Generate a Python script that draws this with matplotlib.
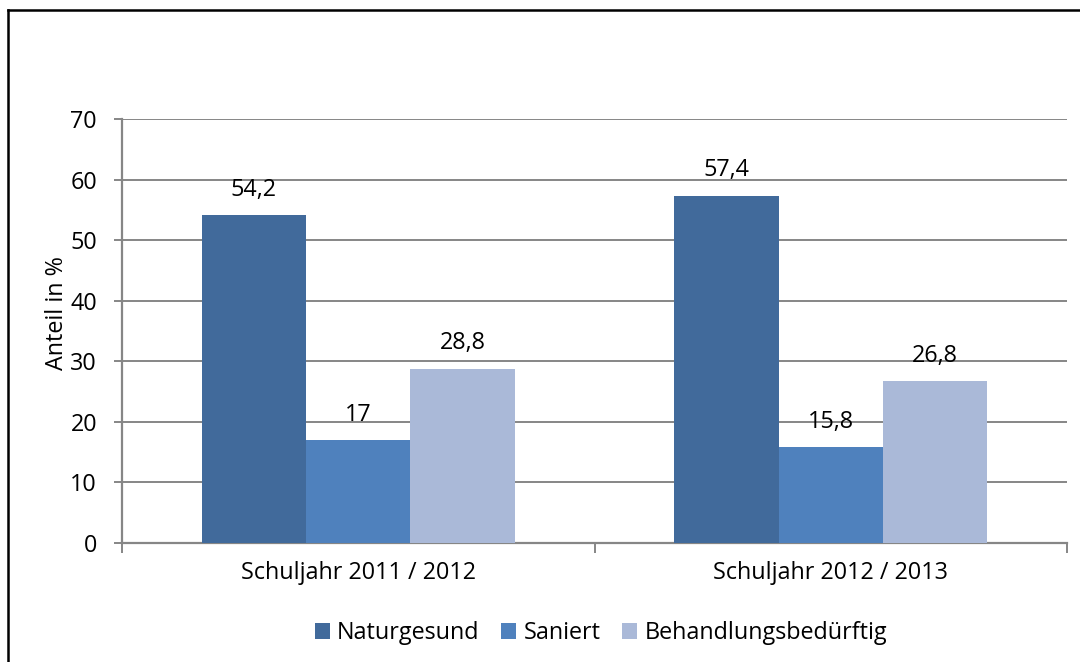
import matplotlib.pyplot as plt
from matplotlib.lines import Line2D
import numpy as np

# Daten
schuljahre = ['Schuljahr 2011 / 2012', 'Schuljahr 2012 / 2013']
serien = ['Naturgesund', 'Saniert', 'Behandlungsbedürftig']
naturgesund = [54.2, 57.4]
saniert = [17, 15.8]
behandlungsbeduerftig = [28.8, 26.8]
werte = [naturgesund, saniert, behandlungsbeduerftig]
farben = ['#416A9B', '#4F81BD', '#AAB9D8']

plt.rcParams['font.family'] = ['Open Sans', 'DejaVu Sans']
fs = 16.8

fig = plt.figure(figsize=(10.8, 6.62), dpi=100)
ax = fig.add_axes([122 / 1080, 1 - 542.7 / 662, (1067 - 122) / 1080, (542.7 - 119.3) / 662])

x = np.arange(len(schuljahre))
breite = 0.2211
for i, (name, vals) in enumerate(zip(serien, werte)):
    pos = x + (i - 1) * breite
    ax.bar(pos, vals, width=breite, color=farben[i], label=name, zorder=3)
    for px, v in zip(pos, vals):
        txt = f'{v:g}'.replace('.', ',')
        ax.annotate(txt, xy=(px, v), xytext=(0, 13.7), textcoords='offset points',
                    ha='center', va='baseline', fontsize=fs, color='black')

ax.set_xlim(-0.5, 1.5)
ax.set_ylim(0, 70)
ax.set_yticks(range(0, 71, 10))
ax.yaxis.grid(True, color='#868686', linewidth=1.4, zorder=0)
ax.set_axisbelow(True)

ax.set_xticks(x)
ax.set_xticklabels(schuljahre, fontsize=fs)
ax.set_xticks([-0.5, 0.5, 1.5], minor=True)
ax.tick_params(axis='x', which='major', length=0, pad=13)
ax.tick_params(axis='x', which='minor', length=7, width=1.4, color='#868686', direction='out')
ax.tick_params(axis='y', length=6, width=1.4, color='#868686', labelsize=fs, pad=12)

for s in ['top', 'right']:
    ax.spines[s].set_visible(False)
for s in ['left', 'bottom']:
    ax.spines[s].set_color('#868686')
    ax.spines[s].set_linewidth(1.6)

fig.text(57 / 1080, 1 - 313 / 662, 'Anteil in %', rotation=90, ha='center', va='center', fontsize=fs)

fig.legend(loc='center', bbox_to_anchor=(601 / 1080, 1 - 633 / 662), ncol=3, frameon=False,
           fontsize=fs, handlelength=0.64, handleheight=0.64, handletextpad=0.3,
           columnspacing=0.94)

# Rahmen (nur links und oben sichtbar)
fig.add_artist(Line2D([7.5 / 1080, 7.5 / 1080], [0, 1 - 9.5 / 662], transform=fig.transFigure,
                      color='black', linewidth=1.8))
fig.add_artist(Line2D([7.5 / 1080, 1], [1 - 9.5 / 662, 1 - 9.5 / 662], transform=fig.transFigure,
                      color='black', linewidth=1.8))

fig.savefig('out.png', dpi=100)
